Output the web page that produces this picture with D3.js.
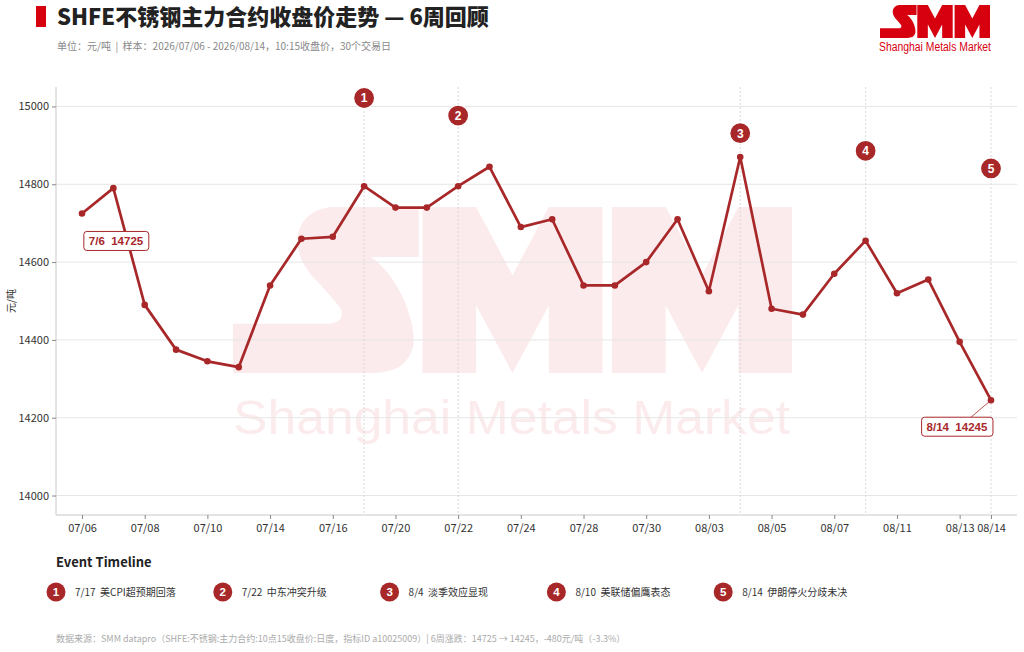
<!DOCTYPE html>
<html><head><meta charset="utf-8">
<script src="https://cdn.jsdelivr.net/npm/d3@7/dist/d3.min.js"></script>
<style>
body{margin:0;background:#fff;}
svg{display:block;font-family:"Noto Sans CJK SC","Noto Sans",sans-serif;}
text{white-space:pre;}
</style>
</head><body><svg id="c" width="1024" height="652"></svg>
<script>
// ---- data ----
const dates = ["07/06","07/07","07/08","07/09","07/10","07/13","07/14","07/15","07/16","07/17",
  "07/20","07/21","07/22","07/23","07/24","07/27","07/28","07/29","07/30","07/31",
  "08/03","08/04","08/05","08/06","08/07","08/10","08/11","08/12","08/13","08/14"];
const prices = [14725,14790,14490,14375,14345,14330,14540,14660,14665,14795,
  14740,14740,14795,14845,14690,14710,14540,14540,14600,14710,
  14525,14870,14480,14465,14570,14655,14520,14555,14395,14245];
const tickLabels = ["07/06","07/08","07/10","07/14","07/16","07/20","07/22","07/24","07/28","07/30",
  "08/03","08/05","08/07","08/11","08/13","08/14"];
const yTicks = [14000,14200,14400,14600,14800,15000];
const eventDates = ["07/17","07/22","08/04","08/10","08/14"];
const eventShort = ["7/17","7/22","8/4","8/10","8/14"];
const eventTexts = ["美CPI超预期回落","中东冲突升级","淡季效应显现","美联储偏鹰表态","伊朗停火分歧未决"];
const calloutDates = ["07/06","08/14"];
const calloutShort = ["7/6","8/14"];

// ---- layout ----
const svg = d3.select("#c");
const M = {l:56, r:1017, t:87, b:515};
const RED = "#a8282a";
const x = d3.scalePoint().domain(dates).range([M.l, M.r]).padding(0.83);
const y = d3.scaleLinear().domain([13950, 15050]).range([M.b, M.t]);

// SMM logo glyph shapes (1460 x 498 unit box)
const LOGO_W = 1460, LOGO_H = 498;
const logoPaths = [
  "M255,0 H485 V150 H360 Q420,200 452,295 Q478,375 470,420 Q452,498 365,498 H0 V350 H255 Q292,345 282,305 Q252,262 205,205 Q160,140 170,80 Q185,10 255,0 Z",
  "M495,0 H635 L730,205 L825,0 H965 V498 H825 V295 L730,498 L635,295 V498 H495 Z",
  "M990,0 H1130 L1225,205 L1320,0 H1460 V498 H1320 V295 L1225,498 L1130,295 V498 H990 Z"
];
function drawLogo(g, x0, y0, w, h){
  g.append("g").attr("transform",`translate(${x0},${y0}) scale(${w/LOGO_W},${h/LOGO_H})`)
    .selectAll("path").data(logoPaths).join("path").attr("d",d=>d);
}

// header
svg.append("rect").attr("x",36).attr("y",6).attr("width",10).attr("height",21).attr("fill","#d7000f");
svg.append("text").attr("x",57).attr("y",25).attr("font-size",22).attr("font-weight",900).attr("fill","#222")
  .text("SHFE不锈钢主力合约收盘价走势 — 6周回顾");
svg.append("text").attr("x",57).attr("y",50).attr("font-size",10).attr("fill","#888")
  .text("单位：元/吨  |  样本：2026/07/06 - 2026/08/14，10:15收盘价，30个交易日");

// logo
const logo = svg.append("g").attr("fill","#d7000f");
drawLogo(logo, 880, 5, 110, 33);
logo.append("text").attr("x",879).attr("y",51).attr("font-size",12)
  .attr("font-family","'Liberation Sans', Arial, sans-serif")
  .attr("textLength",112).attr("lengthAdjust","spacingAndGlyphs").text("Shanghai Metals Market");

// watermark
const wm = svg.append("g").attr("fill","#d7000f").attr("opacity",0.075);
drawLogo(wm, 233, 207, 559, 166);
wm.append("text").attr("x",233).attr("y",434).attr("font-size",49)
  .attr("font-family","'Liberation Sans', Arial, sans-serif")
  .attr("textLength",557).attr("lengthAdjust","spacingAndGlyphs").text("Shanghai Metals Market");

// grid
svg.append("g").selectAll("line").data(yTicks).join("line")
  .attr("x1",M.l).attr("x2",M.r).attr("y1",d=>y(d)).attr("y2",d=>y(d))
  .attr("stroke","#e6e6e6").attr("stroke-width",1);

// event dashed lines
svg.append("g").selectAll("line").data(eventDates).join("line")
  .attr("x1",d=>x(d)).attr("x2",d=>x(d)).attr("y1",M.t).attr("y2",M.b)
  .attr("stroke","#d8d8d8").attr("stroke-width",1).attr("stroke-dasharray","2,2");

// axes
const yAxis = svg.append("g").attr("transform",`translate(${M.l},0)`)
  .call(d3.axisLeft(y).tickValues(yTicks).tickSize(4).tickPadding(3).tickFormat(d3.format("d")));
const xAxis = svg.append("g").attr("transform",`translate(0,${M.b})`)
  .call(d3.axisBottom(x).tickValues(tickLabels).tickSize(4).tickPadding(5));
[yAxis,xAxis].forEach(a=>{
  a.select(".domain").attr("stroke","#c8c8c8");
  a.selectAll(".tick line").attr("stroke","#888");
  a.selectAll("text").attr("font-size",11).attr("fill","#333").attr("font-family","'Noto Sans CJK SC',sans-serif");
});
xAxis.select(".domain").attr("d",`M${M.l},0H${M.r}`);
yAxis.select(".domain").attr("d",`M0,${M.t}V${M.b}`);

svg.append("text").attr("transform",`translate(15,${(M.t+M.b)/2}) rotate(-90)`)
  .attr("text-anchor","middle").attr("font-size",10).attr("fill","#333").text("元/吨");

// line
svg.append("path").datum(prices)
  .attr("d", d3.line().x((d,i)=>x(dates[i])).y(d=>y(d)))
  .attr("fill","none").attr("stroke",RED).attr("stroke-width",2.7).attr("stroke-linejoin","round");
svg.append("g").selectAll("circle").data(prices).join("circle")
  .attr("cx",(d,i)=>x(dates[i])).attr("cy",d=>y(d)).attr("r",3.3).attr("fill",RED);

// event markers on chart
const em = svg.append("g").selectAll("g").data(eventDates).join("g")
  .attr("transform",(d,i)=>`translate(${x(d)},${M.t+11+i*17.6})`);
em.append("circle").attr("r",10.5).attr("fill",RED).attr("stroke","#fff").attr("stroke-width",1.2);
em.append("text").attr("text-anchor","middle").attr("dy","0.36em").attr("font-size",12).attr("font-weight",700)
  .attr("fill","#fff").attr("font-family","'Liberation Sans',Arial,sans-serif").text((d,i)=>i+1);

// callouts
calloutDates.forEach((d,k)=>{
  const i = dates.indexOf(d);
  const px = x(d), py = y(prices[i]);
  const label = calloutShort[k] + "  " + prices[i];
  const g = svg.append("g");
  const cx = k===0 ? px+34 : px-34;
  const top = py + (k===0 ? 18 : 17);
  const t = g.append("text").attr("x",cx).attr("y",top+13.5).attr("text-anchor","middle")
    .attr("font-size",11.5).attr("font-weight",700).attr("fill",RED)
    .attr("font-family","'Liberation Sans',Arial,sans-serif").text(label);
  const bb = t.node().getBBox();
  if(k===1){
    g.append("line").attr("x1",px).attr("y1",py).attr("x2",cx+14).attr("y2",top)
      .attr("stroke",RED).attr("stroke-width",0.8);
  }
  g.insert("rect","text").attr("x",bb.x-5).attr("y",top).attr("width",bb.width+10).attr("height",19)
    .attr("rx",3).attr("fill","#fff").attr("stroke",RED).attr("stroke-width",1);
});

// event timeline
svg.append("text").attr("x",56).attr("y",567).attr("font-size",13).attr("font-weight",700).attr("fill","#222")
  .text("Event Timeline");
const tl = svg.append("g").selectAll("g").data(eventTexts).join("g")
  .attr("transform",(d,i)=>`translate(${56+i*166.8},592)`);
tl.append("circle").attr("r",9.5).attr("fill",RED);
tl.append("text").attr("text-anchor","middle").attr("dy","0.36em").attr("font-size",11.5).attr("font-weight",700)
  .attr("fill","#fff").attr("font-family","'Liberation Sans',Arial,sans-serif").text((d,i)=>i+1);
tl.append("text").attr("x",19).attr("dy","0.36em").attr("font-size",10).attr("fill","#333")
  .text((d,i)=>eventShort[i]+"  "+d);

// footer
svg.append("text").attr("x",56).attr("y",642).attr("font-size",9).attr("fill","#aaa")
  .text("数据来源：SMM datapro（SHFE:不锈钢:主力合约:10点15收盘价:日度，指标ID a10025009）| 6周涨跌：14725 → 14245，-480元/吨（-3.3%）");
</script></body></html>
